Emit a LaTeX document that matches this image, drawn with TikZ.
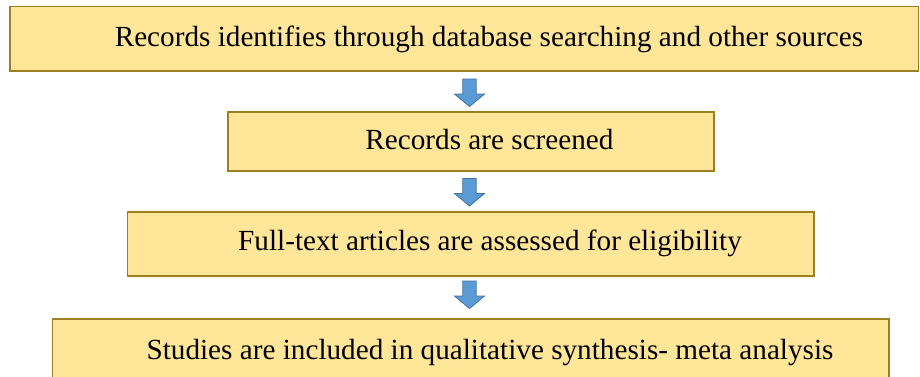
\documentclass[tikz,border=0pt]{standalone}
\usepackage{fontspec}
\setmainfont{Liberation Serif}
\definecolor{boxfill}{HTML}{FFE699}
\definecolor{boxline}{HTML}{9C7E25}
\definecolor{arrowfill}{HTML}{5B9BD5}
\definecolor{arrowline}{HTML}{41719C}
\tikzset{
  stagebox/.style={draw=boxline, fill=boxfill, line width=1.8pt},
  stagetext/.style={anchor=base, inner sep=0pt, font=\fontsize{29.2}{33}\selectfont},
  downarrow/.style={fill=arrowfill, draw=arrowline, line width=0.8pt, line join=miter}
}
\newcommand{\blockarrow}[2]{% x centre, top y
  \draw[downarrow] (#1-6.7,#2) -- (#1+6.7,#2) -- (#1+6.7,#2+15) -- (#1+15,#2+15)
    -- (#1,#2+27.5) -- (#1-15,#2+15) -- (#1-6.7,#2+15) -- cycle;
}
\begin{document}
\begin{tikzpicture}[x=1pt,y=-1pt]
\useasboundingbox (0,0) rectangle (920,376);
% stage boxes
\draw[stagebox] (10,6.5) rectangle (918.5,71);
\draw[stagebox] (228,112) rectangle (714,171);
\draw[stagebox] (127.5,212) rectangle (814,276);
\draw[stagebox] (52.5,319) rectangle (889,390);
% labels
\node[stagetext] (t1) at (489,46) {Records identifies through database searching and other sources};
\node[stagetext] (t2) at (489.5,149.5) {Records are screened};
\node[stagetext] (t3) at (490,250.5) {Full-text articles are assessed for eligibility};
\node[stagetext] (t4) at (490,359.5) {Studies are included in qualitative synthesis- meta analysis};
% block arrows between stages
\blockarrow{469.5}{79}
\blockarrow{469.5}{178.5}
\blockarrow{469.5}{281}
\end{tikzpicture}
\end{document}
